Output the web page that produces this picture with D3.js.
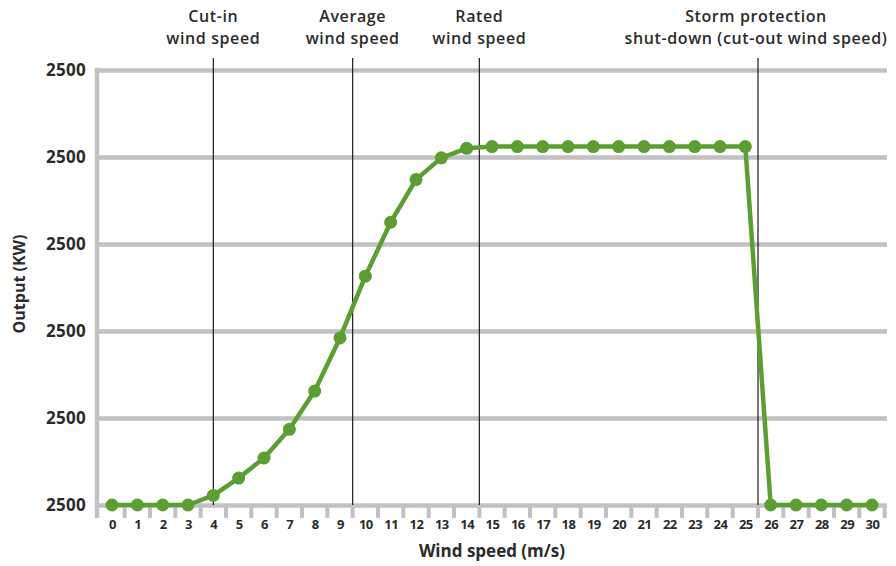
<!DOCTYPE html>
<html>
<head>
<meta charset="utf-8">
<script src="https://cdn.jsdelivr.net/npm/d3@7"></script>
<style>
  html, body { margin: 0; padding: 0; background: #fff; }
  svg { display: block; }
  text { font-family: "Open Sans", Lato, sans-serif; fill: #2b2b2b; }
</style>
</head>
<body>
<svg id="chart" width="896" height="566"></svg>
<script>
// Wind speed (m/s) and turbine output (kW)
const windSpeeds = d3.range(0, 31);
const outputKW = [0, 0, 0, 0, 55, 155, 270, 435, 655, 960, 1315, 1625, 1870, 1995, 2050,
                  2060, 2060, 2060, 2060, 2060, 2060, 2060, 2060, 2060, 2060, 2060,
                  0, 0, 0, 0, 0];
const yTickValues = [0, 500, 1000, 1500, 2000, 2500];
const yTickLabels = ["2500", "2500", "2500", "2500", "2500", "2500"];
const markerSpeeds = [4, 9.5, 14.5, 25.5];
const markerLabels = [
  ["Cut-in", "wind speed"],
  ["Average", "wind speed"],
  ["Rated", "wind speed"],
  ["Storm protection", "shut-down (cut-out wind speed)"]
];

const svg = d3.select("#chart");
const grey = "#c1c1c5";
const green = "#5b9f33";

const x = d3.scaleLinear().domain([0, 30]).range([112, 872]);
const y = d3.scaleLinear().domain([0, 2500]).range([505, 70]);

// horizontal gridlines
const yAxis = d3.axisLeft(y)
  .tickValues(yTickValues)
  .tickFormat((d, i) => yTickLabels[i])
  .tickSize(-(887 - 97))
  .tickPadding(11);
const gy = svg.append("g").attr("transform", "translate(97,0)").call(yAxis);
gy.select(".domain").remove();
gy.selectAll(".tick line").attr("stroke", grey).attr("stroke-width", 4.5);
gy.selectAll(".tick text")
  .style("font-size", "17px").style("font-weight", 700)
  .style("letter-spacing", "0.3px")
  .attr("fill", "#2b2b2b");

// vertical axis line
svg.append("line")
  .attr("x1", 97).attr("x2", 97)
  .attr("y1", y(2500) - 2.2).attr("y2", 518)
  .attr("stroke", grey).attr("stroke-width", 4.5);

// x tick marks between the speed labels
const tickMarks = d3.range(0, 31).map(d => d + 0.5);
svg.append("g").selectAll("line")
  .data(tickMarks).join("line")
  .attr("x1", d => x(d)).attr("x2", d => x(d))
  .attr("y1", 505).attr("y2", 518)
  .attr("stroke", grey).attr("stroke-width", 4);

// x labels
const xAxis = d3.axisBottom(x).tickValues(windSpeeds).tickFormat(d3.format("d")).tickSize(0).tickPadding(15);
const gx = svg.append("g").attr("transform", "translate(0,505)").call(xAxis);
gx.select(".domain").remove();
gx.selectAll(".tick text")
  .style("font-size", "13px").style("font-weight", 700)
  .style("letter-spacing", "-0.5px")
  .attr("fill", "#2b2b2b");

// marker lines
svg.append("g").selectAll("line")
  .data(markerSpeeds).join("line")
  .attr("x1", d => x(d)).attr("x2", d => x(d))
  .attr("y1", 58).attr("y2", 505)
  .attr("stroke", "#1a1a1a").attr("stroke-width", 1.2);

// marker captions, one text element per line
const capLines = markerSpeeds.flatMap((s, i) =>
  markerLabels[i].map((line, j) => ({ s, i, j, line })));
svg.append("g").selectAll("text")
  .data(capLines).join("text")
  .attr("text-anchor", "middle")
  .attr("x", d => d.i === 3 ? 756 : x(d.s))
  .attr("y", d => 21.5 + d.j * 22.3)
  .style("font-size", "16px").style("font-weight", 600)
  .style("letter-spacing", "0.6px")
  .text(d => d.line);

// power curve
const pts = windSpeeds.map((s, i) => [s, outputKW[i]]);
svg.append("path")
  .datum(pts)
  .attr("fill", "none")
  .attr("stroke", green)
  .attr("stroke-width", 4.5)
  .attr("stroke-linejoin", "round")
  .attr("d", d3.line().x(d => x(d[0])).y(d => y(d[1])));

svg.append("g").selectAll("circle")
  .data(pts).join("circle")
  .attr("cx", d => x(d[0])).attr("cy", d => y(d[1]))
  .attr("r", 6.5)
  .attr("fill", green);

// axis titles
svg.append("text")
  .attr("transform", "translate(25,284) rotate(-90)")
  .attr("text-anchor", "middle")
  .style("font-size", "16px").style("font-weight", 700)
  .text("Output (KW)");

svg.append("text")
  .attr("x", 492).attr("y", 557)
  .attr("text-anchor", "middle")
  .style("font-size", "17px").style("font-weight", 700)
  .text("Wind speed (m/s)");
</script>
</body>
</html>
